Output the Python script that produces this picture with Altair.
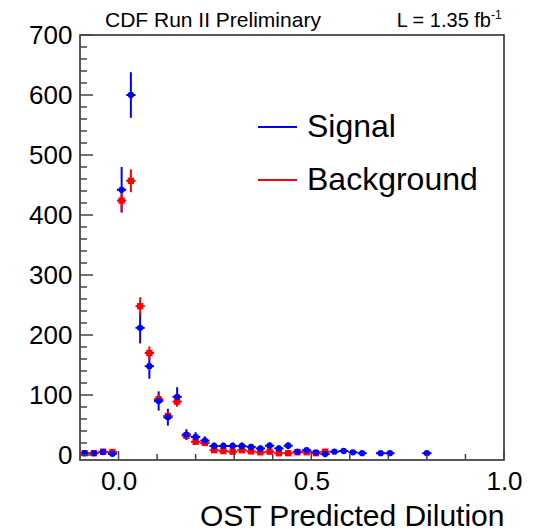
import altair as alt
import pandas as pd

# Histogram bin centres and contents (OST predicted dilution)
signal_x = [-0.088, -0.064, -0.040, -0.016, 0.008, 0.032, 0.056, 0.080, 0.104, 0.128,
            0.152, 0.176, 0.200, 0.224, 0.248, 0.272, 0.296, 0.320, 0.344, 0.368,
            0.392, 0.416, 0.440, 0.464, 0.488, 0.512, 0.536, 0.560, 0.584, 0.608,
            0.632, 0.680, 0.704, 0.800]
signal_y = [3, 3, 5, 2, 442, 600, 212, 148, 90, 63,
            97, 34, 30, 24, 15, 15, 15, 15, 13.5, 11,
            15.5, 11, 15.5, 5.5, 8, 4.5, 1.5, 5.5, 6.7, 4.5,
            3, 3, 3, 3]
signal_err = [2, 2, 3, 2, 38, 38, 26, 21, 16, 14,
              16, 9, 8, 7, 6, 6, 6, 6, 5, 5,
              6, 5, 6, 4, 4, 3, 2, 4, 4, 3,
              3, 3, 3, 3]

background_x = [-0.088, -0.064, -0.040, -0.016, 0.008, 0.032, 0.056, 0.080, 0.104, 0.128,
                0.152, 0.176, 0.200, 0.224, 0.248, 0.272, 0.296, 0.320, 0.344, 0.368,
                0.392, 0.416, 0.440, 0.464, 0.488, 0.512, 0.536]
background_y = [3, 3, 5.5, 5, 424, 457, 248, 170, 93, 65,
                89, 32, 22, 20, 8, 6.5, 5.5, 8, 6, 4.5,
                5.5, 3, 3, 4.5, 4.5, 3, 5.5]
background_err = [2, 2, 2, 2, 19, 19, 15, 11, 8, 7,
                  8, 5, 4, 4, 3, 2, 2, 3, 2, 2,
                  2, 2, 2, 2, 2, 2, 2]

half_bin = 0.012
series_names = ["Signal", "Background"]
series_colors = ["#0000ff", "#ff0000"]

x_labels = [0.0, 0.5, 1.0]
x_minor = [-0.1, 0.1, 0.2, 0.3, 0.4, 0.6, 0.7, 0.8, 0.9]
y_labels = [0, 100, 200, 300, 400, 500, 600, 700]
y_minor = [v for v in range(20, 700, 20) if v % 100 != 0]

W, H = 424, 425
FONT = "Liberation Sans"


def frame(name, xs, ys, errs):
    df = pd.DataFrame({"x": xs, "y": ys, "err": errs})
    df["series"] = name
    df["lo"] = df["y"] - df["err"]
    df["hi"] = df["y"] + df["err"]
    df["xlo"] = df["x"] - half_bin
    df["xhi"] = df["x"] + half_bin
    return df


sig = frame("Signal", signal_x, signal_y, signal_err)
bkg = frame("Background", background_x, background_y, background_err)

xs = alt.Scale(domain=[-0.1, 1.0], nice=False, zero=False)
ys = alt.Scale(domain=[-8.33, 700], nice=False, zero=False)
cs = alt.Scale(domain=series_names, range=series_colors)

x_axis = alt.Axis(values=x_labels, format=".1f", tickSize=0, domain=False, grid=False,
                  labelFontSize=26, labelPadding=8, labelColor="black", labelFont=FONT,
                  labelFlush=False, labelOverlap=False,
                  title="OST Predicted Dilution", titleFontSize=30, titleFont=FONT,
                  titleFontWeight="normal", titleColor="black", titleAnchor="end",
                  titleAlign="right", titleBaseline="alphabetic", titleX=W, titleY=65)
y_axis = alt.Axis(values=y_labels, format="d", tickSize=0, domain=False, grid=False,
                  labelFontSize=26, labelPadding=8, labelColor="black", labelFont=FONT,
                  labelFlush=False, labelOverlap=False, title=None)


def vbars(df):
    return alt.Chart(df).mark_rule(strokeWidth=2).encode(
        x=alt.X("x:Q", scale=xs, axis=x_axis),
        y=alt.Y("lo:Q", scale=ys, axis=y_axis),
        y2="hi:Q",
        color=alt.Color("series:N", scale=cs, legend=None),
    )


def hbars(df):
    return alt.Chart(df).mark_rule(strokeWidth=2).encode(
        x=alt.X("xlo:Q", scale=xs),
        x2="xhi:Q",
        y=alt.Y("y:Q", scale=ys),
        color=alt.Color("series:N", scale=cs, legend=None),
    )


def markers(df, shape, size):
    return alt.Chart(df).mark_point(shape=shape, size=size, filled=True, opacity=1).encode(
        x=alt.X("x:Q", scale=xs),
        y=alt.Y("y:Q", scale=ys),
        color=alt.Color("series:N", scale=cs, legend=None),
    )


tick_color = "#444444"
y_major_ticks = alt.Chart(pd.DataFrame({"v": y_labels})).mark_rule(
    color=tick_color, strokeWidth=1.5).encode(
    y=alt.Y("v:Q", scale=ys), x=alt.value(0), x2=alt.value(13))
y_minor_ticks = alt.Chart(pd.DataFrame({"v": y_minor})).mark_rule(
    color=tick_color, strokeWidth=1.5).encode(
    y=alt.Y("v:Q", scale=ys), x=alt.value(0), x2=alt.value(7))
x_major_ticks = alt.Chart(pd.DataFrame({"v": x_labels})).mark_rule(
    color=tick_color, strokeWidth=1.5).encode(
    x=alt.X("v:Q", scale=xs), y=alt.value(H), y2=alt.value(H - 9))
x_minor_ticks = alt.Chart(pd.DataFrame({"v": x_minor})).mark_rule(
    color=tick_color, strokeWidth=1.5).encode(
    x=alt.X("v:Q", scale=xs), y=alt.value(H), y2=alt.value(H - 6))

# Legend drawn inside the frame, one row per series
legend_df = pd.DataFrame({"series": series_names})
legend_rows = []
for name, line_y, text_y in [("Signal", 92, 102), ("Background", 145, 155)]:
    base = alt.Chart(legend_df).transform_filter(alt.datum.series == name)
    legend_rows.append(base.mark_rule(strokeWidth=2).encode(
        x=alt.value(178), x2=alt.value(217), y=alt.value(line_y),
        color=alt.Color("series:N", scale=cs, legend=None)))
    legend_rows.append(base.mark_text(
        align="left", baseline="alphabetic", fontSize=32, font=FONT, color="black").encode(
        x=alt.value(227), y=alt.value(text_y), text="series:N"))

head_left = alt.Chart(pd.DataFrame({"t": ["CDF Run II Preliminary"]})).mark_text(
    align="left", baseline="alphabetic", fontSize=21, font=FONT, color="black").encode(
    x=alt.value(25), y=alt.value(-8), text="t:N")
head_right = alt.Chart(pd.DataFrame({"t": ["L = 1.35 fb"]})).mark_text(
    align="right", baseline="alphabetic", fontSize=20, font=FONT, color="black").encode(
    x=alt.value(411), y=alt.value(-8), text="t:N")
head_sup = alt.Chart(pd.DataFrame({"t": ["-1"]})).mark_text(
    align="left", baseline="alphabetic", fontSize=12, font=FONT, color="black").encode(
    x=alt.value(411), y=alt.value(-16), text="t:N")

chart = alt.layer(
    vbars(sig), hbars(sig),
    vbars(bkg), hbars(bkg),
    markers(bkg, "square", 40),
    markers(sig, "circle", 40),
    y_major_ticks, y_minor_ticks, x_major_ticks, x_minor_ticks,
    *legend_rows,
    head_left, head_right, head_sup,
).properties(
    width=W, height=H,
    autosize=alt.AutoSizeParams(type="none"),
    padding={"left": 80, "top": 35, "right": 29, "bottom": 70},
    background="white",
).configure_view(stroke="#222222", strokeWidth=1.5)

chart.save("out.html", embed_options={"renderer": "svg", "actions": False})
